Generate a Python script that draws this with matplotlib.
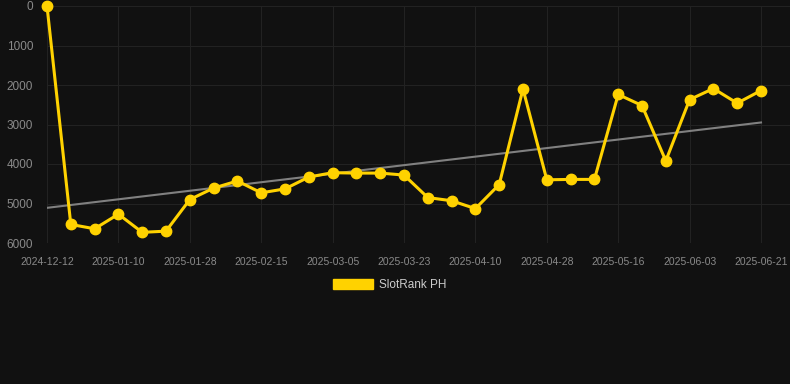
import matplotlib
matplotlib.use("Agg")
import matplotlib.pyplot as plt
import numpy as np
from matplotlib.patches import Patch

dates = ["2024-12-12", "2024-12-29", "2025-01-04", "2025-01-10", "2025-01-16", "2025-01-22",
         "2025-01-28", "2025-02-03", "2025-02-09", "2025-02-15", "2025-02-21", "2025-02-27",
         "2025-03-05", "2025-03-11", "2025-03-17", "2025-03-23", "2025-03-29", "2025-04-04",
         "2025-04-10", "2025-04-16", "2025-04-22", "2025-04-28", "2025-05-04", "2025-05-10",
         "2025-05-16", "2025-05-22", "2025-05-28", "2025-06-03", "2025-06-09", "2025-06-15",
         "2025-06-21"]
ranks = [0, 5530, 5640, 5270, 5730, 5700, 4900, 4610, 4430, 4730, 4630, 4330,
         4220, 4230, 4230, 4280, 4850, 4930, 5130, 4520, 2100, 4400, 4390, 4390,
         2240, 2520, 3920, 2370, 2090, 2460, 2140]
yticks = [0, 1000, 2000, 3000, 4000, 5000, 6000]
series_name = "SlotRank PH"

bg = "#111111"
gold = "#FFD200"

fig = plt.figure(figsize=(7.9, 3.84), dpi=100, facecolor=bg)
ax = fig.add_axes([47/790, 1-243/384, 1-47/790, (243-6)/384])
ax.set_facecolor(bg)

x = np.arange(len(dates))
coef = np.polyfit(x, ranks, 1)
ax.plot(x, np.polyval(coef, x), color="#808080", lw=1.5, zorder=2)
ax.plot(x, ranks, color=gold, lw=2.2, marker="o", markersize=7.5,
        markeredgecolor=gold, zorder=3, clip_on=False)

ax.set_ylim(6000, 0)
ax.set_xlim(0, (790-47)/((761-47)/30))
ax.set_yticks(yticks)
ax.set_yticklabels([str(v) for v in yticks], fontsize=8.5, color="#8a8a8a",
                   family="Liberation Sans")
tick_idx = x[::3]
ax.set_xticks(tick_idx)
ax.set_xticklabels([dates[i] for i in tick_idx], fontsize=7.5, color="#8a8a8a",
                   family="Liberation Sans")
ax.tick_params(axis="x", length=0, pad=10)
ax.tick_params(axis="y", length=0, pad=10)
ax.grid(True, color="#222222", lw=0.8)
for s in ax.spines.values():
    s.set_visible(False)

handle = Patch(facecolor=gold, edgecolor=gold)
leg = fig.legend([handle], [series_name], loc="center", bbox_to_anchor=(390/790, 1-285/384),
                 frameon=False, handlelength=3.4, handleheight=0.9, handletextpad=0.5,
                 prop={"family": "Liberation Sans", "size": 8.5})
for t in leg.get_texts():
    t.set_color("#cccccc")

fig.savefig("out.png", dpi=100, facecolor=bg)
